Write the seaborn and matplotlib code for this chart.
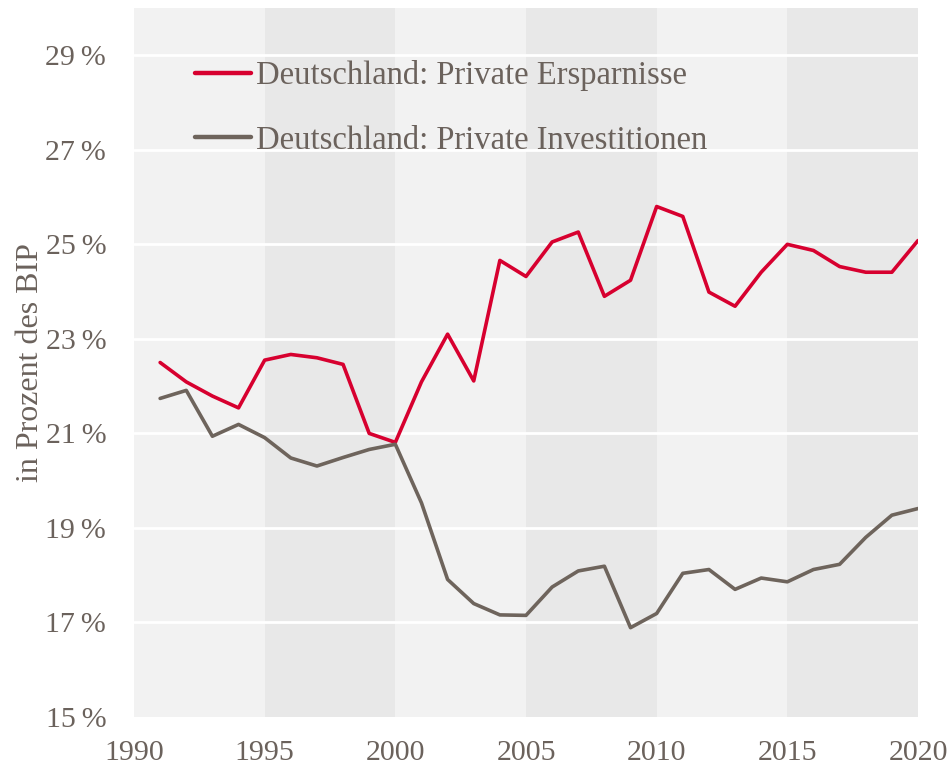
import numpy as np
import pandas as pd
import matplotlib
matplotlib.use("Agg")
import matplotlib.pyplot as plt
import seaborn as sns
from matplotlib.ticker import FuncFormatter

# Data (in % of GDP)
years = list(range(1991, 2021))
ersparnisse = [22.50, 22.09, 21.79, 21.54, 22.55, 22.67, 22.60, 22.46, 21.00, 20.81,
               22.09, 23.10, 22.11, 24.66, 24.32, 25.05, 25.26, 23.90, 24.24, 25.80,
               25.59, 23.99, 23.69, 24.41, 25.00, 24.87, 24.53, 24.41, 24.41, 25.08]
investitionen = [21.74, 21.91, 20.94, 21.19, 20.91, 20.48, 20.31, 20.49, 20.66, 20.77,
                 19.53, 17.91, 17.40, 17.16, 17.15, 17.75, 18.09, 18.19, 16.89, 17.19,
                 18.04, 18.12, 17.70, 17.94, 17.86, 18.12, 18.23, 18.80, 19.27, 19.41]
series_names = ["Deutschland: Private Ersparnisse", "Deutschland: Private Investitionen"]
band_edges = [1990, 1995, 2000, 2005, 2010, 2015, 2020]
y_ticks = [15, 17, 19, 21, 23, 25, 27, 29]
x_ticks = [1990, 1995, 2000, 2005, 2010, 2015, 2020]

text_color = "#6b625c"
red = "#d7002f"
gray = "#6e645c"

df = pd.DataFrame({
    "Jahr": years * 2,
    "Wert": ersparnisse + investitionen,
    "Reihe": [series_names[0]] * len(years) + [series_names[1]] * len(years),
})

sns.set_style("white")
plt.rcParams["font.family"] = ["Liberation Serif", "DejaVu Serif"]

fig = plt.figure(figsize=(9.53, 7.70), dpi=100)
ax = fig.add_axes([134 / 953, 53 / 770, 784 / 953, 709 / 770])

# alternating background bands
for i in range(len(band_edges) - 1):
    c = "#f2f2f2" if i % 2 == 0 else "#e8e8e8"
    ax.axvspan(band_edges[i], band_edges[i + 1], color=c, lw=0, zorder=0)

for y in y_ticks[1:]:
    ax.axhline(y, color="white", lw=2, zorder=0.5)

sns.lineplot(data=df, x="Jahr", y="Wert", hue="Reihe", palette=[red, gray],
             linewidth=2.6, ax=ax, zorder=3)

ax.set_xlim(1990, 2020)
ax.set_ylim(15, 30)
ax.set_xticks(x_ticks)
ax.set_yticks(y_ticks)
ax.yaxis.set_major_formatter(FuncFormatter(lambda v, p: f"{int(v)}\u2009%"))
ax.tick_params(axis="both", length=0, labelsize=21.5, colors=text_color)
ax.tick_params(axis="y", pad=20)
ax.tick_params(axis="x", pad=16.5)
ax.set_xlabel("")
ax.set_ylabel("in Prozent des BIP", fontsize=23, color=text_color)
ax.yaxis.set_label_coords(-0.113, 0.5)
for s in ax.spines.values():
    s.set_visible(False)

leg = ax.legend(loc="upper left", bbox_to_anchor=(0.078, 0.926), frameon=False,
                fontsize=23.5, handlelength=1.7, handletextpad=0.15, labelspacing=1.03,
                borderpad=0, borderaxespad=0)
for t in leg.get_texts():
    t.set_color(text_color)
for l in leg.get_lines():
    l.set_linewidth(3.2)

fig.savefig("out.png", dpi=100)
